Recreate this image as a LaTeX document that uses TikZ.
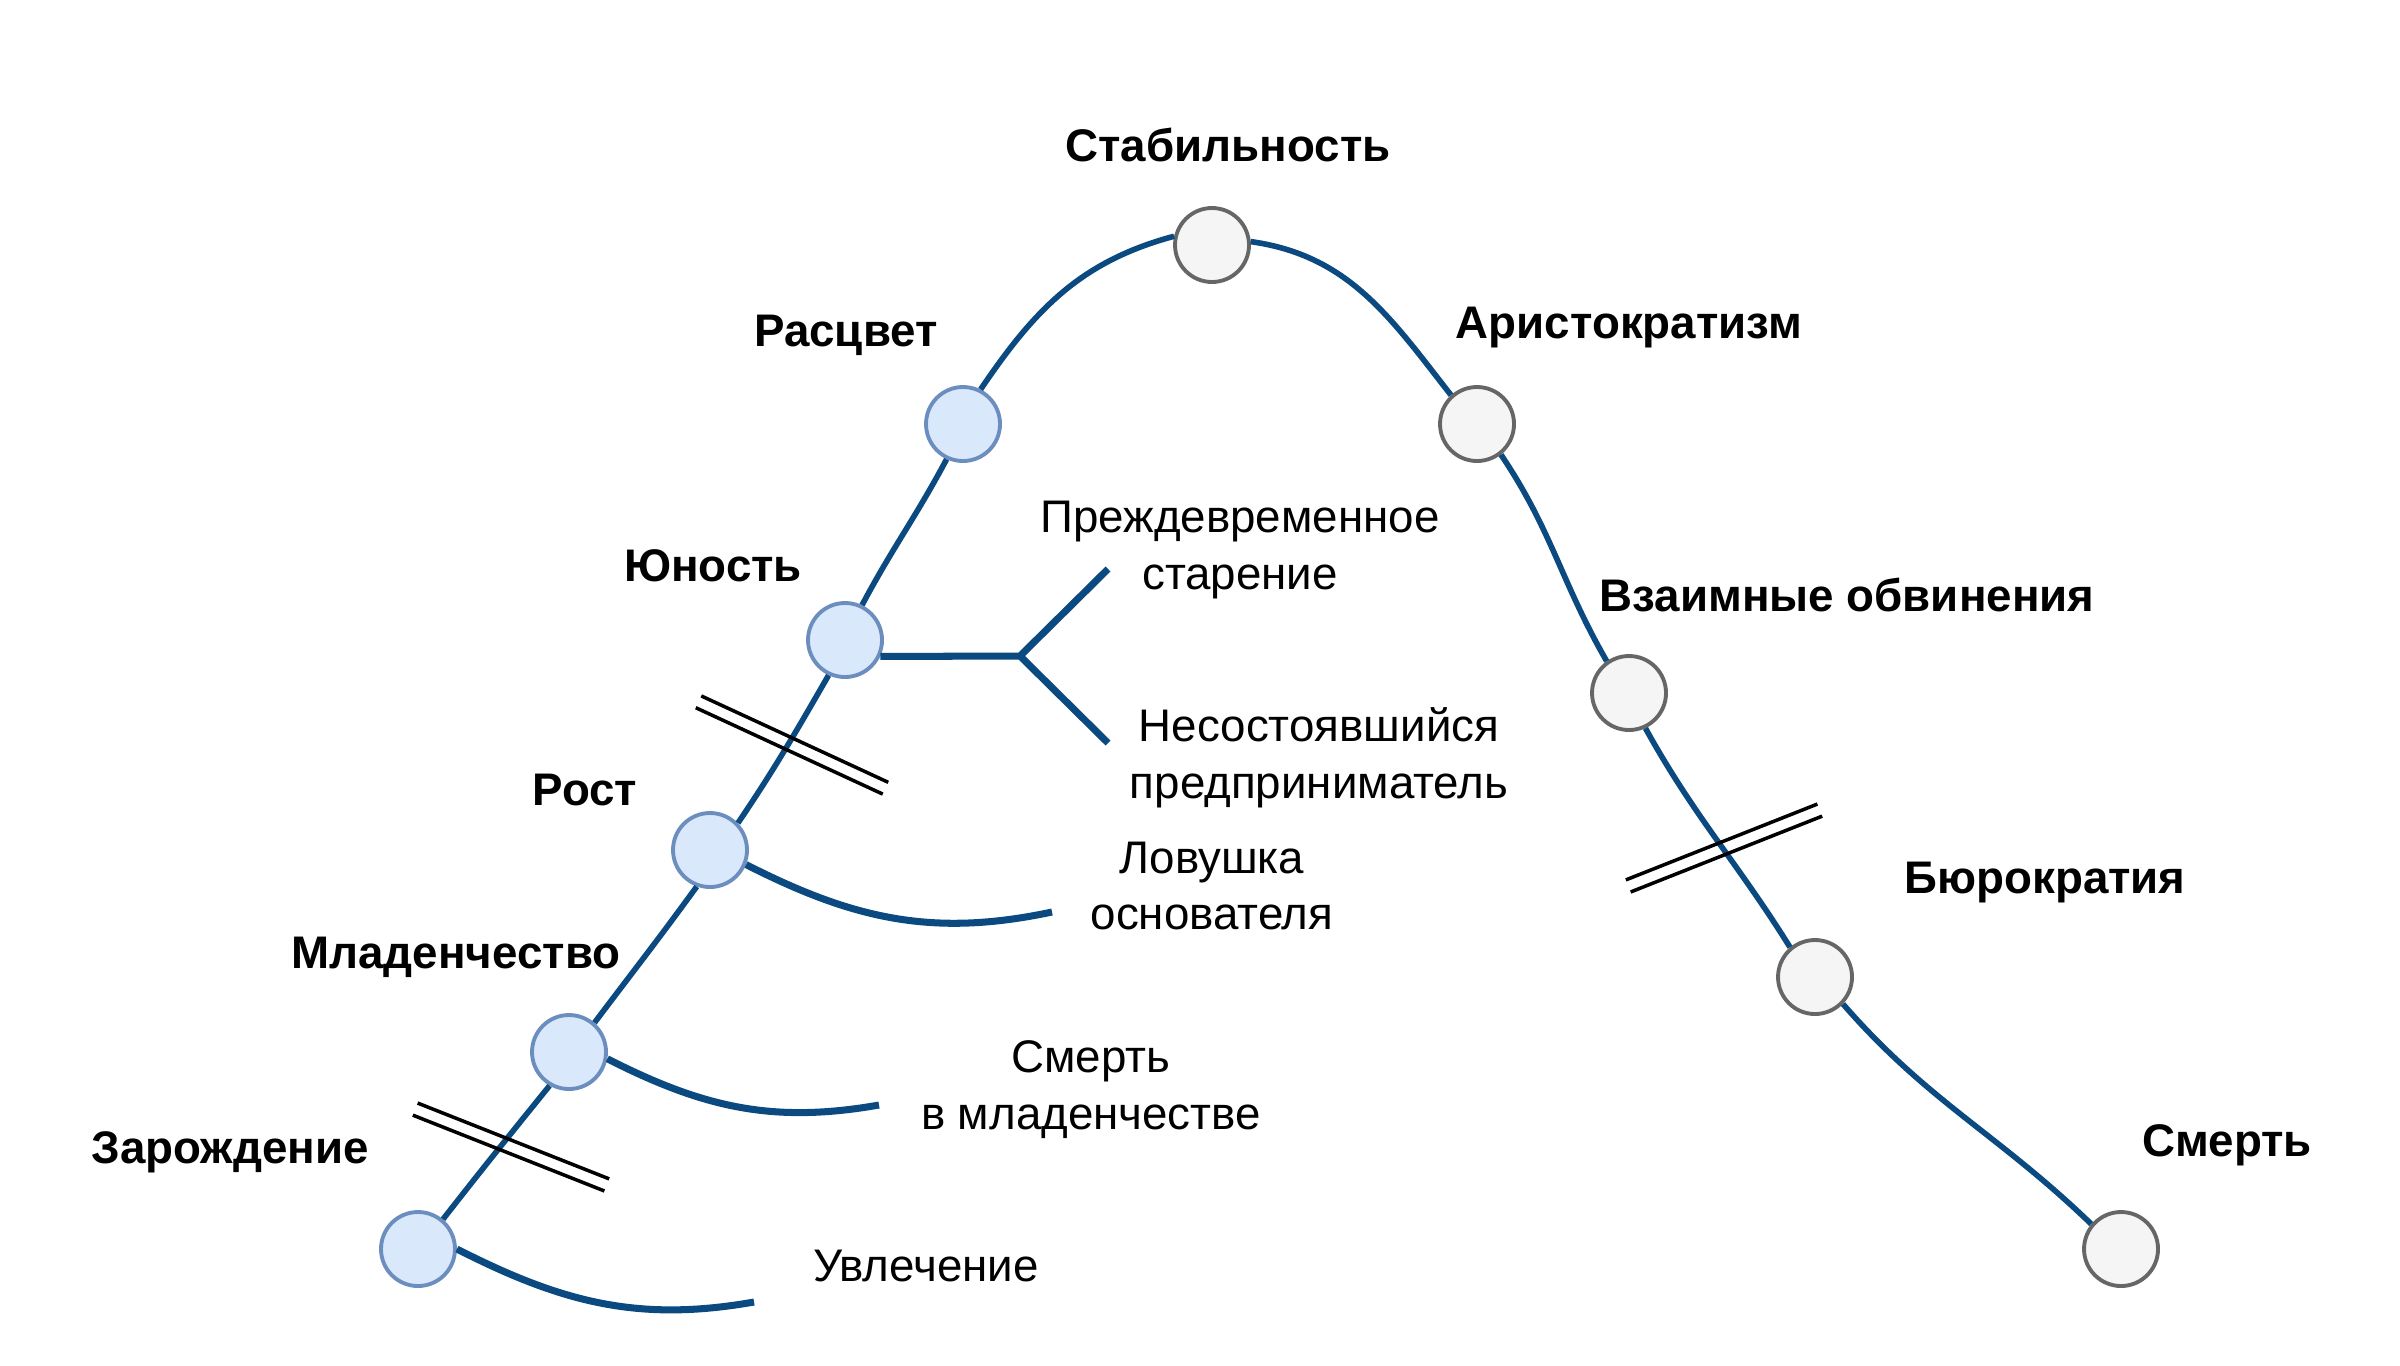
\documentclass[tikz,border=0pt]{standalone}
\usepackage{fontspec}
\setmainfont{Liberation Sans}
\usepackage{xcolor}
\usetikzlibrary{positioning}

\definecolor{lineblue}{HTML}{0B4A80}
\definecolor{youngfill}{HTML}{DAE8FC}
\definecolor{youngdraw}{HTML}{6C8EBF}
\definecolor{oldfill}{HTML}{F5F5F5}
\definecolor{olddraw}{HTML}{666666}

\begin{document}
\begin{tikzpicture}[
    young/.style={circle,draw=youngdraw,fill=youngfill,line width=1.1pt,minimum size=0.74cm,inner sep=0pt},
    old/.style={circle,draw=olddraw,fill=oldfill,line width=1.1pt,minimum size=0.74cm,inner sep=0pt},
    mainline/.style={draw=lineblue,line width=1.6pt},
    branch/.style={draw=lineblue,line width=2pt},
    hashline/.style={line width=1pt},
    stagelbl/.style={font=\fontsize{13}{16}\selectfont\bfseries},
    outcome/.style={font=\fontsize{13}{16.2}\selectfont,align=center}]
    \useasboundingbox (0,0) rectangle (24,-13.65);
    % stages
    \node[young] (z) at (4.18,-12.49) {};
    \node[young] (m) at (5.69,-10.52) {};
    \node[young] (r) at (7.10,-8.50) {};
    \node[young] (y) at (8.45,-6.40) {};
    \node[young] (ras) at (9.63,-4.24) {};
    \node[old] (st) at (12.12,-2.45) {};
    \node[old] (ar) at (14.77,-4.24) {};
    \node[old] (vz) at (16.29,-6.93) {};
    \node[old] (bu) at (18.15,-9.77) {};
    \node[old] (sm) at (21.21,-12.49) {};
    % the life curve
    \draw[mainline] (z.50) to[out=52,in=231] (m.240)
        (m.49) to[out=53,in=234] (r.250)
        (r.44) to[out=56,in=240] (y.245)
        (y.64) to[out=62,in=242] (ras.245)
        (ras.63) to[out=56,in=195] (st.167)
        (st.5) to[out=-8,in=128] (ar.132)
        (ar.-52) to[out=-56,in=120] (vz.125)
        (vz.-65) to[out=-61,in=122] (bu.130)
        (bu.-44) to[out=-49,in=136] (sm.140);
    % traps
    \coordinate (fork) at (10.20,-6.56);
    \coordinate (fUp) at (11.08,-5.69);
    \coordinate (fDown) at (11.08,-7.43);
    \coordinate (rEnd) at (10.52,-9.12);
    \coordinate (mEnd) at (8.79,-11.05);
    \coordinate (zEnd) at (7.54,-13.02);
    \draw[branch] (y.-25) -- (fork) -- (fUp) (fork) -- (fDown);
    \draw[branch] (r.-22) to[out=-27,in=192] (rEnd);
    \draw[branch] (m.-10) to[out=-27,in=190] (mEnd);
    \draw[branch] (z.0) to[out=-27,in=190] (zEnd);
    % breaks
    \foreach \cx/\cy/\ang in {7.92/-7.45/-24.8, 5.11/-11.47/-21.6, 17.24/-8.48/21.6}{
        \begin{scope}[shift={(\cx,\cy)},rotate=\ang]
            \draw[hashline] (-1.03,0.065) -- (1.03,0.065) (-1.03,-0.065) -- (1.03,-0.065);
        \end{scope}
    }
    % stage names
    \node[stagelbl] (lst) at (12.28,-1.45) {Стабильность};
    \node[stagelbl] (lras) at (8.46,-3.35) {Расцвет};
    \node[stagelbl] (lar) at (16.29,-3.28) {Аристократизм};
    \node[stagelbl] (ly) at (7.13,-5.66) {Юность};
    \node[stagelbl] (lvz) at (18.47,-5.95) {Взаимные обвинения};
    \node[stagelbl] (lr) at (5.85,-7.90) {Рост};
    \node[stagelbl] (lbu) at (20.45,-8.83) {Бюрократия};
    \node[stagelbl] (lm) at (4.56,-9.57) {Младенчество};
    \node[stagelbl] (lz) at (2.30,-11.52) {Зарождение};
    \node[stagelbl] (lsm) at (22.27,-11.45) {Смерть};
    % outcomes
    \node[outcome] (oUp) at (12.40,-5.50) {Преждевременное\\старение};
    \node[outcome] (oDown) at (13.19,-7.58) {Несостоявшийся\\предприниматель};
    \node[outcome] (oR) at (12.12,-8.86) {Ловушка\\основателя};
    \node[outcome] (oM) at (10.91,-10.90) {Смерть\\в младенчестве};
    \node[outcome] (oZ) at (9.26,-12.66) {Увлечение};
\end{tikzpicture}
\end{document}
